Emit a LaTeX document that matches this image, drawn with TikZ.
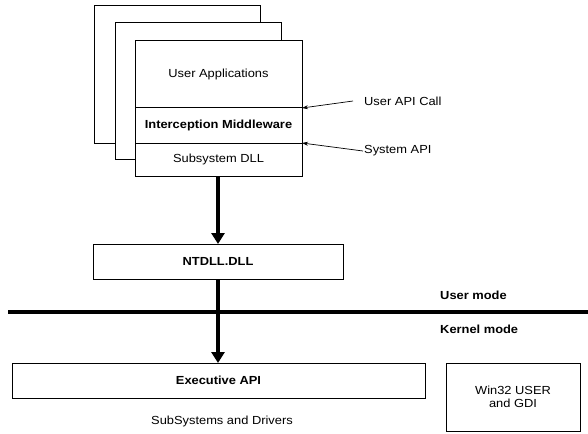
\documentclass[tikz,border=0pt]{standalone}
\usepackage{fontspec}
\setmainfont{Liberation Sans}[FakeStretch=1.1]
\usetikzlibrary{arrows.meta}
\begin{document}
\begin{tikzpicture}[x=1pt,y=-1pt,
  every node/.style={font=\fontsize{11.7}{13.5}\selectfont},
  box/.style={draw,line width=1pt,fill=white,inner sep=0pt,outer sep=0pt},
  lbl/.style={inner sep=0pt,anchor=west},
  bigarrow/.style={line width=3.2pt,-{Triangle[width=13pt,length=11pt]}},
  callarrow/.style={line width=0.7pt,-{Stealth[length=6pt,width=4pt]}},
  divider/.style={line width=3.2pt}]
\useasboundingbox (0,0) rectangle (588,433);

% stacked application windows
\node[box,minimum width=166pt,minimum height=137pt] (back1) at (177,74.5) {};
\node[box,minimum width=166pt,minimum height=136pt] (back2) at (198,91) {};
\node[box,minimum width=167pt,minimum height=67pt] (apps) at (218.5,74.5) {User Applications};
\node[box,minimum width=167pt,minimum height=35pt] (mid) at (218.5,125.5) {\bfseries Interception Middleware};
\node[box,minimum width=167pt,minimum height=33pt] (sub) at (218.5,159.5) {Subsystem DLL};

% API call labels
\node[lbl] (userapi) at (364,101) {User API Call};
\node[lbl] (sysapi) at (364,151) {System API};
\draw[callarrow] ([xshift=-11pt]userapi.west) -- (apps.south east);
\draw[callarrow] ([xshift=-1pt]sysapi.west) -- (mid.south east);

% ntdll
\node[box,minimum width=250pt,minimum height=35pt] (ntdll) at (218,261.5) {\bfseries NTDLL.DLL};
\draw[bigarrow] (sub.south -| ntdll.north) -- (ntdll.north);

% user / kernel boundary
\coordinate (ml) at (8,312);
\coordinate (mr) at (588,312);
\draw[divider] (ml) -- (mr);
\node[lbl] (umode) at (440,295) {\bfseries User mode};
\node[lbl] (kmode) at (440,329) {\bfseries Kernel mode};

% kernel side
\node[box,minimum width=413pt,minimum height=35pt] (exec) at (218.5,380.5) {\bfseries Executive API};
\draw[bigarrow] (ntdll.south) -- (ntdll.south |- exec.north);
\node[inner sep=0pt] (drivers) at (222,421) {SubSystems and Drivers};
\node[box,minimum width=134pt,minimum height=68pt,align=center] (win32) at (513,397) {Win32 USER\\and GDI};
\end{tikzpicture}
\end{document}
